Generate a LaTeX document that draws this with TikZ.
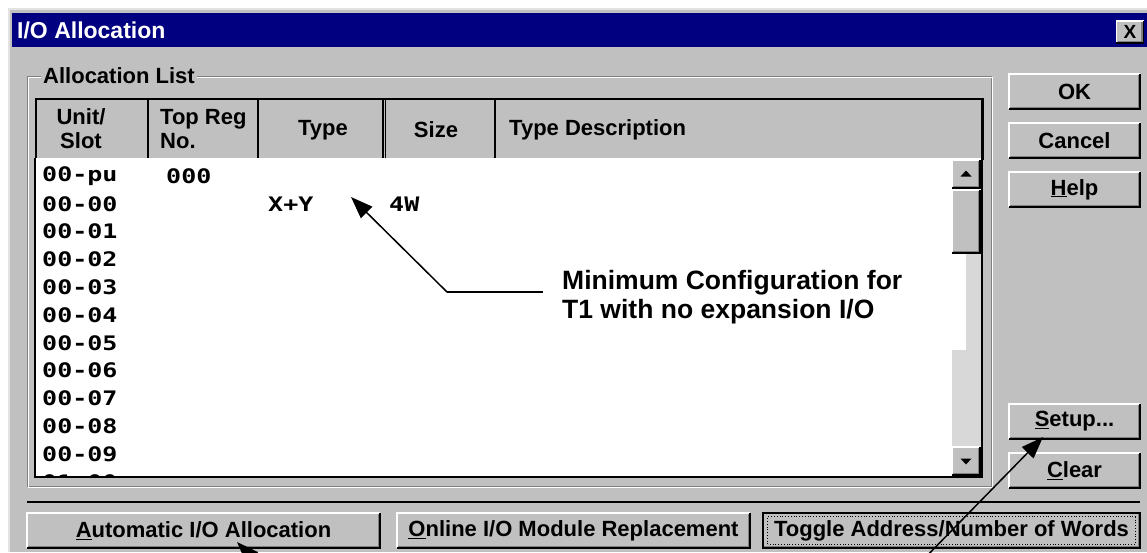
\documentclass[tikz,border=0pt]{standalone}
\usepackage{fontspec}
\setmainfont{Liberation Sans}
\newfontfamily\rowfont[FakeStretch=1.25]{DejaVu Sans Mono}
\usetikzlibrary{arrows.meta}
\definecolor{navy}{RGB}{0,0,128}
\definecolor{wgray}{RGB}{192,192,192}
\definecolor{wdark}{RGB}{128,128,128}
\definecolor{wtrack}{RGB}{216,216,216}
\newcommand\btnfont{\fontsize{22}{24}\selectfont\bfseries}
\newcommand\winbev[1]{%
  \draw[white,line width=1.5pt] (#1.south west) -- (#1.north west) -- (#1.north east);
  \draw[black,line width=1.5pt] (#1.south west) -- (#1.south east) -- (#1.north east);
  \draw[wdark,line width=1.5pt] ([shift={(1.5pt,1.5pt)}]#1.south west) -- ([shift={(-1.5pt,1.5pt)}]#1.south east) -- ([shift={(-1.5pt,-1.5pt)}]#1.north east);
}
\begin{document}
\begin{tikzpicture}[x=1pt,y=-1pt,
  btn/.style={fill=wgray, font=\btnfont, inner sep=0pt, minimum width=131pt, minimum height=35pt},
  sbtn/.style={fill=wgray, inner sep=0pt, minimum width=28pt, minimum height=28pt},
  hdrtxt/.style={font=\btnfont, inner sep=0pt, align=center},
  rowtxt/.style={font=\rowfont\bfseries\fontsize{20}{20}\selectfont, anchor=west, inner sep=0pt},
  arr/.style={line width=1.5pt, -{Triangle[length=22pt,width=16pt]}},
  note/.style={font=\fontsize{26.5}{28.5}\selectfont\bfseries, align=left, anchor=west, inner xsep=19pt, inner ysep=0pt}
]
\useasboundingbox (0,0) rectangle (1147,552);
\clip (0,0) rectangle (1147,552);
\fill[white] (0,0) rectangle (1147,552);
% window body
\fill[wgray] (8,8) rectangle (1147,552);
\draw[wgray!45!white, line width=2pt] (9,552) -- (9,9) -- (1147,9);
% title bar
\fill[navy] (12,13) rectangle (1147,47);
\node[anchor=west, inner sep=0pt, text=white, font=\fontsize{23}{25}\selectfont\bfseries] (title) at (17,30) {I/O Allocation};
\node[fill=wgray, inner sep=0pt, minimum width=27pt, minimum height=22pt, font=\fontsize{19}{19}\selectfont\bfseries] (close) at (1130,32) {X};
\winbev{close}
% group frame
\draw[wdark, line width=1pt] (27,76) rectangle (991,486);
\draw[white, line width=1pt] (28.5,77.5) rectangle (992.5,487.5);
\node[fill=wgray, anchor=west, inner xsep=2pt, inner ysep=0pt, font=\btnfont] (grp) at (41,76) {Allocation List};
% header
\node[draw=black, line width=1.5pt, fill=wgray, anchor=north west, inner sep=0pt, minimum width=947pt, minimum height=60pt] (hdr) at (35,98) {};
\foreach \cx in {148,258,383,495} \draw[black, line width=1.5pt] (\cx,98) -- (\cx,158);
\draw[black, line width=1pt] (385,98) -- (385,158);
\node[hdrtxt] (hunit) at (81,129) {Unit/\\[0pt]Slot};
\node[hdrtxt, anchor=west, align=left] (htop) at (160,129) {Top Reg\\[0pt]No.};
\node[hdrtxt] (htype) at (323,130) {Type};
\node[hdrtxt] (hsize) at (436,130) {Size};
\node[hdrtxt, anchor=west] (hdesc) at (509,130) {Type Description};
% list body
\node[fill=white, anchor=north west, inner sep=0pt, minimum width=946pt, minimum height=319pt] (list) at (36,158) {};
\draw[black, line width=1.5pt] (35,158) -- (35,477) -- (982,477) -- (982,98);
\begin{scope}
\clip (36,158) rectangle (952,476);
\foreach \t [count=\i from 0] in {00-pu,00-00,00-01,00-02,00-03,00-04,00-05,00-06,00-07,00-08,00-09,01-00}
  \node[rowtxt] (r\i) at (42,{176+27.8*\i}) {\t};
\end{scope}
\node[rowtxt] (reg) at (166,176) {000};
\node[rowtxt] (xy) at (268,203.8) {X+Y};
\node[rowtxt] (sz) at (389,203.8) {4W};
% scrollbar
\fill[wtrack] (952,253) rectangle (981,447);
\fill[white] (952,253) rectangle (966,350);
\node[sbtn] (sup) at (966,174) {};
\winbev{sup}
\fill (sup.center) ++(0pt,3.5pt) -- ++(-5.5pt,-6pt) -- ++(11pt,0pt) -- cycle;
\node[sbtn, minimum height=63pt] (thumb) at (966,221.5) {};
\winbev{thumb}
\node[sbtn] (sdn) at (966,461) {};
\winbev{sdn}
\fill (sdn.center) ++(0pt,-3.5pt) -- ++(-5.5pt,6pt) -- ++(11pt,0pt) -- cycle;
% right buttons
\node[btn] (ok) at (1074.5,91.5) {OK};
\winbev{ok}
\node[btn] (cancel) at (1074.5,140.5) {Cancel};
\winbev{cancel}
\node[btn] (help) at (1074.5,189.5) {\underline{H}elp};
\winbev{help}
\node[btn] (setup) at (1074.5,421.5) {\underline{S}etup...};
\winbev{setup}
\node[btn] (clear) at (1074.5,470.5) {\underline{C}lear};
\winbev{clear}
% separator
\draw[black, line width=2.5pt] (27,502) -- (1140,502);
% bottom buttons
\node[btn, minimum width=353pt] (auto) at (203.5,530.5) {\underline{A}utomatic I/O Allocation};
\winbev{auto}
\node[btn, minimum width=353pt] (online) at (573.5,530.5) {\underline{O}nline I/O Module Replacement};
\winbev{online}
\node[btn, minimum width=377pt] (toggle) at (951.5,530.5) {Toggle Address/Number of Words};
\winbev{toggle}
\draw[black, line width=2pt] (toggle.south west) rectangle (toggle.north east);
\draw[black, line width=0.8pt, dotted] ([shift={(5pt,4pt)}]toggle.south west) rectangle ([shift={(-5pt,-4pt)}]toggle.north east);
% annotation
\node[note] (mincfg) at (543,297) {Minimum Configuration for\\T1 with no expansion I/O};
\coordinate (knee) at (447,292);
\coordinate (tip1) at (351,197);
\draw[line width=1.5pt] (mincfg.west |- knee) -- (knee);
\draw[arr] (knee) -- (tip1);
\coordinate (s0) at (918,565);
\coordinate (tip2) at (1043,437);
\draw[arr] (s0) -- (tip2);
\coordinate (a0) at (262,568);
\coordinate (tip3) at (237,542);
\draw[arr] (a0) -- (tip3);
\end{tikzpicture}
\end{document}
